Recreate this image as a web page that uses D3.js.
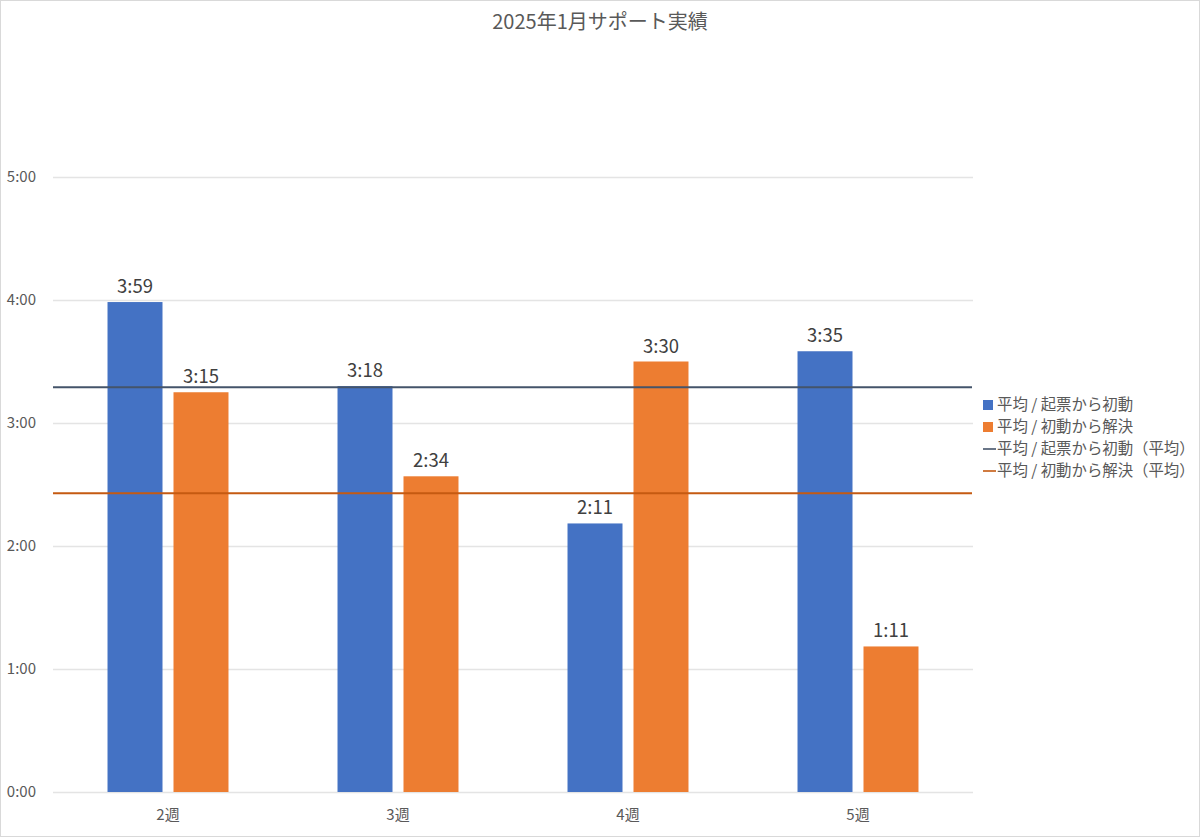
<!DOCTYPE html>
<html><head><meta charset="utf-8">
<script src="https://cdn.jsdelivr.net/npm/d3@7"></script>
<style>html,body{margin:0;padding:0;background:#fff;}svg{display:block;font-family:"Noto Sans CJK JP","Noto Sans",sans-serif;}</style>
</head><body>
<svg id="c" width="1200" height="837"></svg>
<script>
const title = "2025年1月サポート実績";
const categories = ["2週","3週","4週","5週"];
const seriesNames = ["平均 / 起票から初動","平均 / 初動から解決"];
const startToAction = [239, 198, 131, 215];   // minutes: 3:59, 3:18, 2:11, 3:35
const actionToResolve = [195, 154, 210, 71];  // minutes: 3:15, 2:34, 3:30, 1:11
const avgNames = ["平均 / 起票から初動（平均）","平均 / 初動から解決（平均）"];
const avgValues = [197.4, 145.7];             // minutes
const yTicks = [0, 60, 120, 180, 240, 300];
const barColors = ["#4472C4","#ED7D31"];
const avgColors = ["#44546A","#C55A11"];

const fmt = m => Math.floor(m/60) + ":" + String(Math.round(m%60)).padStart(2,"0");
const svg = d3.select("#c");
const W = 1200, H = 837;
svg.append("rect").attr("x",0.5).attr("y",0.5).attr("width",W-1).attr("height",H-1)
  .attr("fill","#fff").attr("stroke","#d9d9d9");

const left = 53, right = 973, bottom = 792, top5 = 177;
const x = d3.scaleBand().domain(categories).range([left, right]).paddingInner(0.474).paddingOuter(0.237);
const xi = d3.scaleBand().domain([0,1]).range([0, x.bandwidth()]).paddingInner(0.1667);
const y = d3.scaleLinear().domain([0, 300]).range([bottom, top5]);

svg.append("text").attr("x",600).attr("y",29).attr("text-anchor","middle")
  .attr("font-size",20).attr("fill","#595959").text(title);

// gridlines
const gy = svg.append("g").attr("transform",`translate(${left},0)`)
  .call(d3.axisLeft(y).tickValues(yTicks).tickSize(-(right-left)).tickFormat(fmt));
gy.select(".domain").remove();
gy.selectAll(".tick line").attr("stroke","#e4e4e4").attr("stroke-width",1.3);
gy.selectAll(".tick text").attr("x",-17).attr("font-size",15).attr("fill","#595959")
  .attr("font-family","'Noto Sans CJK JP',sans-serif");

// x axis
const gx = svg.append("g").attr("transform",`translate(0,${bottom})`)
  .call(d3.axisBottom(x).tickSize(0).tickPadding(17));
gx.select(".domain").remove();
gx.selectAll(".tick text").attr("font-size",15).attr("fill","#595959")
  .attr("font-family","'Noto Sans CJK JP',sans-serif");

const series = [startToAction, actionToResolve];
series.forEach((vals, s) => {
  const g = svg.append("g");
  g.selectAll("rect").data(vals).join("rect")
    .attr("x",(d,i)=>x(categories[i])+xi(s))
    .attr("y",d=>y(d)).attr("width",xi.bandwidth()).attr("height",d=>bottom-y(d))
    .attr("fill",barColors[s]);
  g.selectAll("text").data(vals).join("text")
    .attr("x",(d,i)=>x(categories[i])+xi(s)+xi.bandwidth()/2)
    .attr("y",d=>y(d)-9).attr("text-anchor","middle")
    .attr("font-size",18.5).attr("fill","#404040").text(fmt);
});

// average lines
avgValues.forEach((v,s)=>{
  svg.append("line").attr("x1",left).attr("x2",right-1).attr("y1",y(v)).attr("y2",y(v))
    .attr("stroke",avgColors[s]).attr("stroke-width",2);
});

// legend
const lg = svg.append("g").attr("font-size",15.4).attr("fill","#595959");
const legendItems = [
  {name:seriesNames[0], type:"rect", color:barColors[0]},
  {name:seriesNames[1], type:"rect", color:barColors[1]},
  {name:avgNames[0], type:"line", color:avgColors[0]},
  {name:avgNames[1], type:"line", color:avgColors[1]}
];
legendItems.forEach((it,i)=>{
  const cy = 405 + i*22;
  if (it.type==="rect") lg.append("rect").attr("x",983).attr("y",cy-5).attr("width",10).attr("height",10).attr("fill",it.color);
  else lg.append("line").attr("x1",983).attr("x2",996).attr("y1",cy).attr("y2",cy).attr("stroke",it.color).attr("stroke-width",1.6);
  lg.append("text").attr("x",997).attr("y",cy).attr("dy","0.35em").text(it.name);
});
</script>
</body></html>
